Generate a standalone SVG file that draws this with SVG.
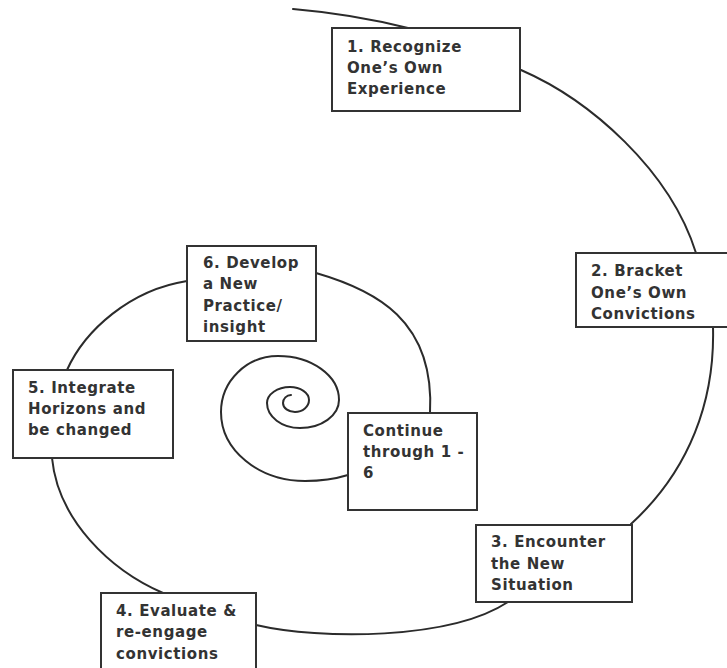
<svg xmlns="http://www.w3.org/2000/svg" width="727" height="668" viewBox="0 0 727 668">
  <style>
    .bg { fill: #ffffff; }
    .link { fill: none; stroke: #2b2b2b; stroke-width: 2; stroke-linecap: round; }
    .box { fill: #ffffff; stroke: #333333; stroke-width: 2; }
    .label { font-family: "DejaVu Sans", Verdana, sans-serif; font-weight: bold; font-size: 15px; letter-spacing: 0.6px; fill: #333333; }
  </style>
  <rect class="bg" x="0" y="0" width="727" height="668"/>

  <!-- spiral connectors, drawn beneath the boxes -->
  <g id="connectors">
    <path class="link" d="M293,9 C340,13 380,21 408,28"/>
    <path class="link" d="M521,70 C590,100 670,170 696,253"/>
    <path class="link" d="M713,327 C715,400 690,470 631,524"/>
    <path class="link" d="M508,602 C450,640 320,640 256,625"/>
    <path class="link" d="M163,593 C110,570 58,520 52,458"/>
    <path class="link" d="M67,370 C85,330 130,290 187,281"/>
    <path class="link" d="M316,273 C375,290 435,320 430,413"/>
    <path class="link" d="M348,475 C335,479 320,481 305,481
      C258.6,481 221,450.1 221,412
      C221,381.1 246.5,356 278,356
      C311.7,356 339,375.7 339,400
      C339,415.5 321.5,428 300,428
      C281.8,428 267,416.8 267,403
      C267,394.2 277.3,387 290,387
      C300.5,387 309,392.8 309,400
      C309,406.6 302.7,412 295,412
      C288.4,412 283,408 283,403
      C283,398.6 286.6,395 291,395"/>
  </g>

  <g id="step1">
    <rect class="box" x="332" y="28" width="188" height="83"/>
    <text class="label" x="347" y="52">1. Recognize</text>
    <text class="label" x="347" y="73">One’s Own</text>
    <text class="label" x="347" y="94">Experience</text>
  </g>

  <g id="step2">
    <rect class="box" x="576" y="253" width="160" height="74"/>
    <text class="label" x="591" y="276">2. Bracket</text>
    <text class="label" x="591" y="298">One’s Own</text>
    <text class="label" x="591" y="319">Convictions</text>
  </g>

  <g id="step3">
    <rect class="box" x="476" y="525" width="156" height="77"/>
    <text class="label" x="491" y="547">3. Encounter</text>
    <text class="label" x="491" y="569">the New</text>
    <text class="label" x="491" y="590">Situation</text>
  </g>

  <g id="step4">
    <rect class="box" x="101" y="593" width="155" height="85"/>
    <text class="label" x="116" y="616">4. Evaluate &amp;</text>
    <text class="label" x="116" y="637">re-engage</text>
    <text class="label" x="116" y="659">convictions</text>
  </g>

  <g id="step5">
    <rect class="box" x="13" y="370" width="160" height="88"/>
    <text class="label" x="28" y="393">5. Integrate</text>
    <text class="label" x="28" y="414">Horizons and</text>
    <text class="label" x="28" y="435">be changed</text>
  </g>

  <g id="step6">
    <rect class="box" x="187" y="246" width="129" height="95"/>
    <text class="label" x="203" y="268">6. Develop</text>
    <text class="label" x="203" y="289">a New</text>
    <text class="label" x="203" y="311">Practice/</text>
    <text class="label" x="203" y="332">insight</text>
  </g>

  <g id="continue">
    <rect class="box" x="348" y="413" width="129" height="97"/>
    <text class="label" x="363" y="436">Continue</text>
    <text class="label" x="363" y="457">through 1 -</text>
    <text class="label" x="363" y="478">6</text>
  </g>
</svg>
